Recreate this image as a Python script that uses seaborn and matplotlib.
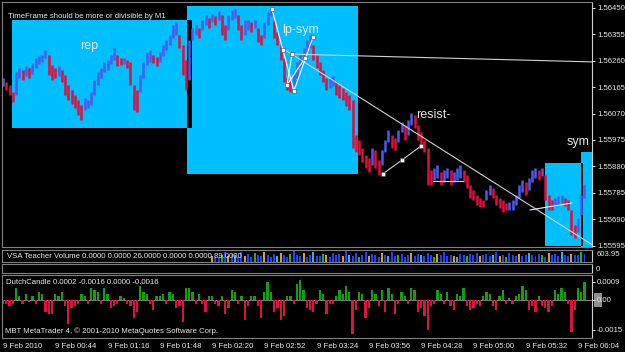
import matplotlib
matplotlib.use("Agg")
import matplotlib.pyplot as plt
import seaborn as sns
import numpy as np
import pandas as pd
from matplotlib.patches import Rectangle

# ---------------- data ----------------
start_minute = 12          # first bar 00:12
bar_step = 2               # minutes per drawn bar
high = [1.56198,1.56184,1.56173,1.56148,1.56220,1.56234,1.56227,1.56241,1.56234,1.56252,
        1.56270,1.56277,1.56281,1.56299,1.56281,1.56245,1.56234,1.56241,1.56227,1.56209,
        1.56173,1.56155,1.56137,1.56119,1.56101,1.56126,1.56119,1.56148,1.56191,1.56220,
        1.56234,1.56256,1.56263,1.56281,1.56306,1.56281,1.56270,1.56270,1.56263,1.56256,
        1.56173,1.56155,1.56209,1.56256,1.56292,1.56299,1.56281,1.56274,1.56292,1.56317,
        1.56335,1.56353,1.56389,1.56400,1.56353,1.56317,1.56263,1.56335,1.56378,1.56389,
        1.56378,1.56407,1.56425,1.56414,1.56428,1.56421,1.56439,1.56425,1.56389,1.56425,
        1.56443,1.56446,1.56425,1.56389,1.56407,1.56407,1.56400,1.56407,1.56378,1.56353,
        1.56400,1.56436,1.56450,1.56407,1.56364,1.56317,1.56270,1.56198,1.56191,1.56220,
        1.56256,1.56281,1.56306,1.56335,1.56353,1.56317,1.56281,1.56256,1.56227,1.56198,
        1.56198,1.56205,1.56184,1.56173,1.56162,1.56148,1.56137,1.56119,1.55993,1.55975,
        1.55946,1.55921,1.55910,1.55946,1.55939,1.55903,1.55939,1.55975,1.56011,1.55993,
        1.55982,1.56011,1.56040,1.56029,1.56047,1.56072,1.56065,1.56029,1.56004,1.55975,
        1.55946,1.55867,1.55874,1.55885,1.55860,1.55867,1.55874,1.55867,1.55860,1.55874,
        1.55885,1.55867,1.55849,1.55813,1.55795,1.55777,1.55766,1.55759,1.55795,1.55813,
        1.55802,1.55777,1.55766,1.55759,1.55748,1.55752,1.55759,1.55777,1.55813,1.55831,
        1.55824,1.55838,1.55867,1.55874,1.55867,1.55874,1.55849,1.55777,1.55759,1.55766,
        1.55773,1.55777,1.55766,1.55759,1.55723,1.55669,1.55694,1.55777,1.55813]
low = [1.56169,1.56155,1.56137,1.56112,1.56137,1.56198,1.56191,1.56205,1.56198,1.56212,
       1.56234,1.56248,1.56256,1.56270,1.56209,1.56191,1.56198,1.56205,1.56184,1.56137,
       1.56119,1.56104,1.56090,1.56065,1.56047,1.56083,1.56090,1.56101,1.56137,1.56173,
       1.56198,1.56220,1.56227,1.56248,1.56263,1.56241,1.56245,1.56248,1.56234,1.56173,
       1.56083,1.56076,1.56148,1.56198,1.56245,1.56256,1.56252,1.56241,1.56256,1.56277,
       1.56299,1.56317,1.56342,1.56353,1.56306,1.56209,1.56155,1.56191,1.56335,1.56353,
       1.56342,1.56371,1.56389,1.56378,1.56400,1.56389,1.56407,1.56353,1.56335,1.56371,
       1.56407,1.56414,1.56371,1.56335,1.56353,1.56371,1.56364,1.56378,1.56328,1.56317,
       1.56342,1.56389,1.56421,1.56342,1.56317,1.56263,1.56184,1.56155,1.56148,1.56173,
       1.56198,1.56234,1.56263,1.56292,1.56306,1.56263,1.56234,1.56209,1.56184,1.56155,
       1.56162,1.56169,1.56137,1.56126,1.56119,1.56097,1.56083,1.55946,1.55932,1.55921,
       1.55896,1.55874,1.55860,1.55885,1.55874,1.55849,1.55885,1.55932,1.55968,1.55946,
       1.55939,1.55968,1.56004,1.55975,1.55993,1.56029,1.56018,1.55975,1.55957,1.55932,
       1.55813,1.55813,1.55831,1.55838,1.55813,1.55824,1.55838,1.55813,1.55824,1.55831,
       1.55838,1.55824,1.55802,1.55766,1.55759,1.55741,1.55734,1.55734,1.55759,1.55777,
       1.55766,1.55741,1.55730,1.55716,1.55723,1.55723,1.55723,1.55741,1.55766,1.55788,
       1.55777,1.55795,1.55824,1.55838,1.55831,1.55845,1.55759,1.55723,1.55723,1.55737,
       1.55741,1.55744,1.55737,1.55723,1.55633,1.55622,1.55644,1.55705,1.55766]
dutch = [-0.0002,-0.0002,-0.0003,-0.0002,0.0006,0.0002,-0.0002,0.0003,-0.0001,0.0002,
         -0.0002,0.0004,0.0003,-0.0006,-0.0007,-0.0007,0.0003,0.0002,0.0004,-0.0003,
         -0.0012,-0.0004,-0.0003,-0.0002,0.0003,0.0002,-0.0002,0.0006,0.0005,0.0004,
         -0.0002,0.0006,0.0003,-0.0004,-0.0003,-0.0002,0.0002,0.0001,-0.0002,-0.0003,
         -0.0009,-0.0006,0.0007,0.0004,0.0003,-0.0002,-0.0005,0.0002,0.0002,0.0003,
         -0.0002,0.0004,0.0003,-0.0004,-0.0003,-0.0011,0.0006,0.0006,0.0004,-0.0002,
         0.0003,-0.0002,-0.0006,0.0002,0.0002,-0.0002,-0.0003,0.0002,-0.0007,-0.0004,
         0.0005,0.0004,-0.0002,0.0002,-0.0010,-0.0003,0.0002,0.0002,-0.0003,-0.0009,
         0.0004,0.0009,0.0004,-0.0006,-0.0004,-0.0010,-0.0008,0.0002,0.0002,-0.0002,
         0.0008,0.0010,0.0005,-0.0004,-0.0005,-0.0006,-0.0002,0.0005,0.0003,-0.0007,
         -0.0002,-0.0002,0.0002,0.0005,0.0003,0.0007,0.0004,-0.0017,-0.0005,0.0004,
         0.0003,-0.0009,-0.0004,0.0005,0.0003,-0.0003,0.0005,-0.0006,0.0006,0.0003,
         -0.0007,-0.0002,0.0004,0.0002,-0.0002,0.0006,0.0005,-0.0006,-0.0004,-0.0008,
         -0.0015,-0.0003,-0.0002,0.0005,0.0003,-0.0002,0.0004,-0.0003,-0.0005,0.0003,
         0.0002,0.0006,-0.0003,-0.0005,-0.0004,-0.0002,-0.0003,0.0002,0.0004,0.0003,
         -0.0003,-0.0005,0.0002,0.0005,-0.0002,0.0001,-0.0002,0.0002,0.0003,0.0007,
         0.0005,-0.0005,-0.0003,-0.0006,0.0002,-0.0003,-0.0004,-0.0006,-0.0003,0.0005,
         0.0003,0.0006,0.0004,-0.0002,-0.0016,-0.0005,0.0006,0.0004,0.0009]
vol_first_bar = 64
volume = [310,420,250,380,520,300,450,360,280,540, 330,410,260,470,350,300,560,390,280,440,
          330,500,370,290,420,600,350,310,460,280, 380,520,340,300,450,390,270,500,360,430,
          310,580,400,330,470,290,360,510,300,420, 350,280,460,390,330,540,300,380,440,270,
          360,490,320,410,350,300,470,380,290,430, 360,520,310,400,340,280,450,370,300,420,
          350,480,320,390,440,300,360,510,330,400, 290,460,370,340,420,300,380,500,350,310,
          440,390,280,470,360,420,330,560,380,300, 450,400,350,520,420]
vol_class = list("ybbgbybcbb" "ybbgbbybbb" "cybbgbbbyb" "bcbbgybbbb" "ybcbbgbbyb" "bbybcbbgbb"
                 "bybbcbbbgy" "bbbbycbbgb" "bbybbbcbyb" "gbbbybbcbb" "bgbybbbcbb" "ybbgb")

price_ticks = [1.56450, 1.56355, 1.56260, 1.56165, 1.56070, 1.55975, 1.55880, 1.55785, 1.55690, 1.55595]
time_ticks = [12, 44, 76, 108, 140, 172, 204, 236, 268, 300, 332, 364]
time_labels = ["9 Feb 2010", "9 Feb 00:44", "9 Feb 01:16", "9 Feb 01:48", "9 Feb 02:20", "9 Feb 02:52",
               "9 Feb 03:24", "9 Feb 03:56", "9 Feb 04:28", "9 Feb 05:00", "9 Feb 05:32", "9 Feb 06:04"]

# chart objects (time in minutes, price)
rect_t0 = [17.5, 124.6, 343.8, 365.8]
rect_t1 = [127.7, 229.3, 367.1, 374.0]
rect_p0 = [1.56018, 1.55852, 1.55592, 1.55590]
rect_p1 = [1.56407, 1.56457, 1.55892, 1.55932]
trend_t = [182.8, 372.6]
trend_p = [1.56306, 1.55598]
hline_t = [188.9, 372.6]
hline_p = [1.56284, 1.56256]
lpsym_t = [176.7, 183.4, 190.1, 201.8]
lpsym_p = [1.56446, 1.56299, 1.56151, 1.56346]
lpsym2_t = [188.9, 185.9, 196.9]
lpsym2_p = [1.56284, 1.56173, 1.56270]
resist_t = [244.6, 256.3, 267.9]
resist_p = [1.55853, 1.55903, 1.55953]
flat_t = [275.2, 293.6]
flat_p = [1.55827, 1.55827]
sym_t = [334.6, 360.4]
sym_p = [1.55723, 1.55748]
labels_txt = ["rep", "lp-sym", "resist-", "sym"]
labels_t = [64.6, 194.4, 275.2, 364.0]
labels_p = [1.56313, 1.56371, 1.56065, 1.55968]

# ---------------- figure ----------------
sns.set_style("dark")
plt.rcParams['font.family'] = ['Liberation Sans', 'DejaVu Sans']
W, H = 625, 352
fig = plt.figure(figsize=(6.25, 3.52), dpi=100, facecolor='black')

def box(x0, y0, x1, y1):
    return [x0 / W, 1 - y1 / H, (x1 - x0) / W, (y1 - y0) / H]

T0, T1 = 11.4, 372.6
n = len(high)
minutes = start_minute + bar_step * np.arange(n)
GRAY = '#808080'
WHITE = '#E8E8E8'

def style(ax):
    ax.set_facecolor('black')
    ax.grid(False)
    for s in ax.spines.values():
        s.set_color(GRAY)
        s.set_linewidth(0.8)
    ax.spines['right'].set_color('#D0D0D0')
    ax.set_xlim(T0, T1)

# main panel
ax = fig.add_axes(box(2, 2, 592, 247))
style(ax)
ax.set_ylim(1.555896, 1.564716)
for t0, t1, p0, p1 in zip(rect_t0, rect_t1, rect_p0, rect_p1):
    ax.add_patch(Rectangle((t0, p0), t1 - t0, p1 - p0, facecolor='#00BFFF', lw=0, zorder=1))
# overlapping parts of rectangles drawn black (XOR look)
for a in range(len(rect_t0)):
    for b in range(a + 1, len(rect_t0)):
        ta, tb = max(rect_t0[a], rect_t0[b]), min(rect_t1[a], rect_t1[b])
        pa, pb = max(rect_p0[a], rect_p0[b]), min(rect_p1[a], rect_p1[b])
        if tb > ta and pb > pa:
            ax.add_patch(Rectangle((ta, pa), tb - ta, pb - pa, facecolor='black', lw=0, zorder=1.5))

hi = np.array(high); lo = np.array(low)
mid = (hi + lo) / 2
up = np.r_[True, mid[1:] >= mid[:-1]]
cols = np.where(up, '#4A5CF0', '#E0103C')
ax.vlines(minutes, lo, hi, colors=cols, lw=1.8, zorder=2)

ax.plot(trend_t, trend_p, color='#D0D0D0', lw=0.8, zorder=3)
ax.plot(hline_t, hline_p, color='#D0D0D0', lw=0.8, zorder=3)
ax.plot(lpsym_t, lpsym_p, color='white', lw=0.8, marker='s', ms=2.5, mfc='white', mec='#404040', mew=0.4, zorder=3)
ax.plot(lpsym2_t, lpsym2_p, color='white', lw=0.8, marker='s', ms=2.5, mfc='white', mec='#404040', mew=0.4, zorder=3)
ax.plot(resist_t, resist_p, color='#D0D0D0', lw=0.8, marker='s', ms=2.5, mfc='white', mec='#404040', mew=0.4, zorder=3)
ax.plot(flat_t, flat_p, color='#D0D0D0', lw=0.8, zorder=3)
ax.plot(sym_t, sym_p, color='#E0F0FF', lw=0.8, zorder=3)
for s, t, p in zip(labels_txt, labels_t, labels_p):
    ax.text(t, p, s, color=WHITE, fontsize=9, ha='center', va='center', zorder=4)

ax.yaxis.tick_right()
ax.set_yticks(price_ticks)
ax.set_yticklabels([f"{v:.5f}" for v in price_ticks])
ax.tick_params(axis='y', colors=WHITE, labelsize=5.6, length=2.2, width=0.7, pad=1.5, direction='out')
ax.set_xticks([])

# volume panel
axv = fig.add_axes(box(2, 250, 592, 262))
vdf = pd.DataFrame({'t': minutes[vol_first_bar:vol_first_bar + len(volume)], 'v': volume,
                    'c': vol_class[:len(volume)]})
sns.barplot(data=vdf, x='t', y='v', hue='c', native_scale=True, dodge=False, width=0.6,
            palette={'b': '#2040FF', 'y': '#D8A020', 'g': '#20B020', 'c': '#30B0F0'},
            saturation=1, linewidth=0, errorbar=None, legend=False, ax=axv)
style(axv)
axv.set_ylim(0, 640)
axv.yaxis.tick_right()
axv.set_yticks([603.95])
axv.set_yticklabels(["603.95"], va='top')
axv.tick_params(axis='y', colors=WHITE, labelsize=5.6, length=0, pad=3)
axv.set_xticks([]); axv.set_xlabel(''); axv.set_ylabel('')

# empty panel
axe = fig.add_axes(box(2, 264, 592, 273))
style(axe)
axe.set_ylim(0, 1)
axe.yaxis.tick_right()
axe.set_yticks([0.5]); axe.set_yticklabels(["0"])
axe.tick_params(axis='y', colors=WHITE, labelsize=5.6, length=0, pad=3)
axe.set_xticks([])

# DutchCandle panel
axd = fig.add_axes(box(2, 275, 592, 338))
ddf = pd.DataFrame({'t': minutes, 'v': dutch, 's': np.where(np.array(dutch) >= 0, 'up', 'dn')})
sns.barplot(data=ddf, x='t', y='v', hue='s', native_scale=True, dodge=False, width=0.7,
            palette={'up': '#10A010', 'dn': '#DC143C'}, saturation=1, linewidth=0,
            errorbar=None, legend=False, ax=axd)
style(axd)
axd.axhline(0, color=GRAY, lw=0.7, zorder=0.5)
axd.set_ylim(-0.0019, 0.00125)
axd.yaxis.tick_right()
axd.set_yticks([0.0009, 0.0, -0.0015])
axd.set_yticklabels(["0.0009", "0.00", "-0.0015"])
axd.tick_params(axis='y', colors=WHITE, labelsize=5.6, length=2.2, width=0.7, pad=1.5)
axd.set_xticks(time_ticks)
axd.set_xticklabels(time_labels, ha='left')
axd.tick_params(axis='x', colors=WHITE, labelsize=5.6, length=2.2, width=0.7, pad=1.5)
axd.set_xlabel(''); axd.set_ylabel('')
axd.set_xlim(T0, T1)
fig.patches.append(Rectangle((594 / W, 1 - 307 / H), 8 / W, 14 / H, transform=fig.transFigure,
                             facecolor='#909090', lw=0, zorder=-1))

# texts
def ftext(x, y, s, **kw):
    fig.text(x / W, 1 - y / H, s, va='center', ha='left', color=WHITE, fontsize=5.6, **kw)

ftext(8, 16, "TimeFrame should be more or divisible by M1")
ftext(7, 256, "VSA Teacher Volume 0.0000 0.0000 26.0000 0.0000 0.0000 39.0000")
ftext(6, 283, "DutchCandle 0.0002 -0.0016 0.0000 -0.0016")
ftext(5, 331, "MBT MetaTrader 4, \u00a9 2001-2010 MetaQuotes Software Corp.")

fig.savefig("out.png", dpi=100, facecolor='black')
